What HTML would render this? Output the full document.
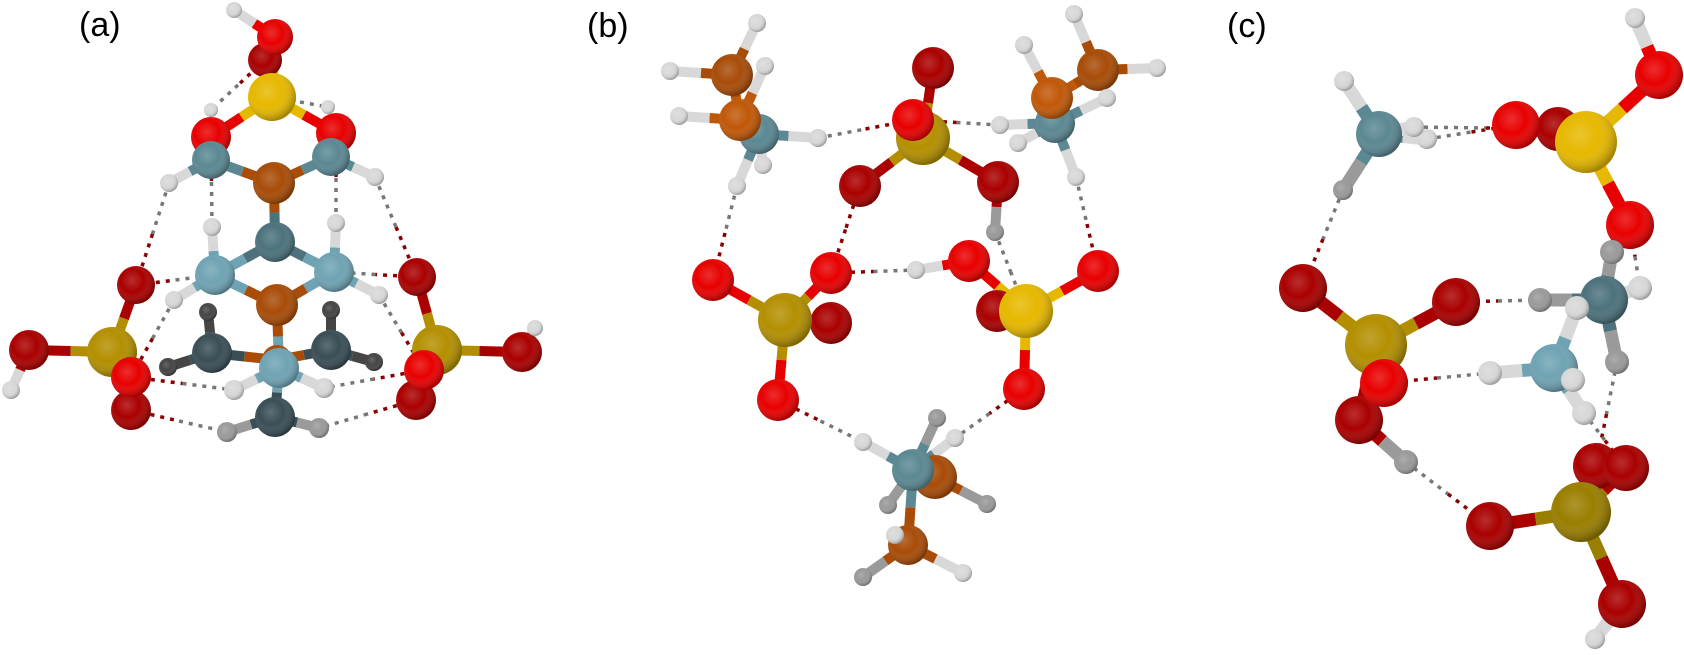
<!DOCTYPE html>
<html><head><meta charset="utf-8">
<style>
html,body{margin:0;padding:0;background:#fff;}
svg{display:block;}
text{font-family:"Liberation Sans",sans-serif;font-size:34px;fill:#000;}
</style></head>
<body>
<svg id="s" width="1684" height="655" viewBox="0 0 1684 655" xmlns="http://www.w3.org/2000/svg">
<defs>
<radialGradient id="sh" cx="40%" cy="38%" r="62%">
<stop offset="0" stop-color="#fff" stop-opacity="0.18"/>
<stop offset="0.5" stop-color="#fff" stop-opacity="0"/>
<stop offset="1" stop-color="#000" stop-opacity="0.28"/>
</radialGradient>
</defs>
<text x="79" y="36">(a)</text>
<text x="587" y="37">(b)</text>
<text x="1227" y="37">(c)</text>
<g id="dash"></g><g id="bond"></g><g id="atom"></g>
</svg>
<script>
var C={O:'#e80000',Od:'#aa0000',S:'#e6b800',So:'#b38f00',Sd:'#9a7e00',N:'#6fa3b3',Nd:'#5b8893',B:'#a84c08',Bl:'#c05808',T:'#4c727c',K:'#3a4e56',H:'#d8d8d8',Hg:'#9a9a9a',Hk:'#454545'};
var P={
a:[['h1',234,10,8,'H'],['o2',265,60,17,'Od'],['o1',275,37,18,'O'],['s',272,97,24,'S'],['h2',211,110,7,'H'],['h3',328,107,7,'H'],
['o3',211,137,20,'O'],['o4',336,133,20,'O'],['n1',211,160,19,'Nd'],['n2',331,157,19,'Nd'],['b1',274,183,21,'B'],['h4',169,183,9,'H'],['h5',375,177,9,'H'],
['c1',275,242,20,'T'],['h6',212,227,9,'H'],['h7',336,223,9,'H'],['n3',215,275,20,'N'],['n4',334,272,20,'N'],['b2',277,305,21,'B'],['h8',174,300,9,'H'],['h9',379,295,9,'H'],
['ol1',136,285,19,'Od'],['or1',417,277,19,'Od'],['sl',112,352,25,'So'],['sr',437,350,25,'So'],['ol2',29,350,20,'Od'],['or2',522,352,20,'Od'],['hl',11,390,9,'H'],['hr',535,328,8,'H'],
['ol4',131,410,20,'Od'],['or4',416,400,20,'Od'],['ol3',131,377,20,'O'],['or3',424,370,20,'O'],
['k1',212,353,20,'K'],['k2',331,350,20,'K'],['hk1',208,312,9,'Hk'],['hk2',331,310,9,'Hk'],['hk3',168,367,9,'Hk'],['hk4',374,362,9,'Hk'],
['bb',277,360,15,'B'],['c3',275,417,20,'K'],['h12',227,432,10,'Hg'],['h13',319,428,10,'Hg'],['n5',279,368,20,'N'],['h10',234,390,10,'H'],['h11',324,388,10,'H']],
b:[['h1',757,23,9,'H'],['h2',670,71,9,'H'],['h3',765,66,9,'H'],['b1',732,75,21,'B'],['n1',759,134,20,'Nd'],['b2',740,120,21,'Bl'],['h4',679,116,9,'H'],['h5',818,138,9,'H'],['h6',763,165,9,'H'],['h7',737,186,9,'H'],
['o0',933,68,21,'Od'],['s1',923,138,27,'So'],['o1',913,120,21,'O'],['o2',860,186,21,'Od'],['o3',998,182,21,'Od'],['hg',995,232,9,'Hg'],
['th1',1074,14,9,'H'],['tb1',1098,70,21,'B'],['tn',1055,123,20,'Nd'],['tb2',1052,98,21,'Bl'],['th2',1024,45,9,'H'],['th3',1107,98,9,'H'],['th4',1000,125,9,'H'],['th5',1018,143,9,'H'],['th6',1076,177,9,'H'],['th7',1157,68,9,'H'],
['lo1',713,280,21,'O'],['lo3',831,323,21,'Od'],['ls',785,320,27,'So'],['lo2',831,273,21,'O'],['lo4',778,400,21,'O'],['hm',916,270,9,'H'],
['ro2',997,311,21,'Od'],['ro1',969,261,21,'O'],['rs',1026,311,27,'S'],['ro3',1098,271,21,'O'],['ro4',1024,389,21,'O'],
['bh1',937,418,9,'Hg'],['bb1',935,477,22,'B'],['bh5',888,505,9,'Hg'],['bn',913,470,21,'Nd'],['bh2',955,438,9,'H'],['bh3',863,442,9,'H'],['bh4',987,504,9,'Hg'],
['bb2',908,545,20,'B'],['bh6',895,535,9,'H'],['bh7',863,577,9,'Hg'],['bh8',963,573,9,'H']],
c:[['h1',1344,81,10,'H'],['h2',1343,190,10,'Hg'],['n1',1379,134,23,'Nd'],['h3',1427,139,10,'H'],['h4',1414,127,10,'H'],
['od',1558,129,22,'Od'],['o1',1516,125,24,'O'],['s1',1586,142,31,'S'],['o2',1659,75,24,'O'],['hh',1635,18,10,'H'],['o3',1630,225,24,'O'],
['h5',1612,252,12,'Hg'],['c1',1604,300,24,'T'],['h6',1640,288,12,'H'],['h7',1540,300,12,'Hg'],['h9',1617,362,12,'Hg'],['h8',1577,308,12,'H'],
['n2',1554,368,24,'N'],['h10',1490,373,12,'H'],['h11',1573,380,12,'H'],['h12',1584,413,12,'H'],
['lo1',1303,288,24,'Od'],['ls',1376,345,31,'So'],['lo2',1456,302,24,'Od'],['lo4',1359,420,24,'Od'],['lo3',1384,383,24,'O'],['lh',1406,462,12,'Hg'],
['bo1',1596,466,23,'Od'],['bs',1581,512,30,'Sd'],['bo2',1626,468,23,'Od'],['bo3',1490,526,24,'Od'],['bo4',1622,604,24,'Od'],['bh',1595,639,10,'H']]
};
var B={
a:'h1-o1 o1-s o2-s s-o3 s-o4 o3-n1 o4-n2 n1-b1 n2-b1 n1-h4 n2-h5 b1-c1 c1-n3 c1-n4 n3-h6 n4-h7 n3-b2 n4-b2 n3-h8 n4-h9 b2-n5 n5-c3 n5-h10 n5-h11 k1-hk1 k2-hk2 k1-hk3 k2-hk4 k1-bb k2-bb c3-h12 c3-h13 ol1-sl sl-ol2 ol2-hl sl-ol3 sl-ol4 or1-sr sr-or2 or2-hr sr-or3 sr-or4',
b:'h1-b1 h2-b1 h3-b2 b1-b2 b2-h4 b2-n1 n1-h5 n1-h6 n1-h7 o0-s1 s1-o1 s1-o2 s1-o3 o3-hg th1-tb1 tb1-tb2 tb2-th2 tb2-tn tn-th3 tn-th4 tn-th5 tn-th6 tb1-th7 lo1-ls ls-lo2 ls-lo3 ls-lo4 ro1-rs rs-ro2 rs-ro3 rs-ro4 ro1-hm bn-bh1 bn-bh2 bn-bh3 bn-bb1 bb1-bh4 bn-bb2 bn-bh5 bb2-bh6 bb2-bh7 bb2-bh8',
c:'n1-h1 n1-h2 n1-h3 n1-h4 o1-s1 od-s1 s1-o2 o2-hh s1-o3 c1-h5 c1-h6 c1-h7 c1-h9 n2-h8 n2-h10 n2-h11 n2-h12 lo1-ls ls-lo2 ls-lo3 ls-lo4 lo4-lh bo1-bs bo2-bs bs-bo3 bs-bo4 bo4-bh'
};
var D={
a:'o2-h2 s-h3 h4-ol1 h5-or1 o3-h6 o4-h7 ol1-n3 or1-n4 h8-ol3 h9-or3 ol3-h10 or3-h11 ol4-h12 or4-h13',
b:'h5-o1 o1-th4 h7-lo1 o2-lo2 lo2-hm hg-rs th6-ro3 lo4-bh3 ro4-bh2',
c:'h3-o1 h4-od h2-lo1 lo2-h7 lo3-h10 lh-bo3 h9-bo1 h12-bo2 o3-h5 o3-h6'
};
var NS='http://www.w3.org/2000/svg';
function el(n,a,p){var e=document.createElementNS(NS,n);for(var k in a)e.setAttribute(k,a[k]);document.getElementById(p).appendChild(e);return e;}
for(var p in P){
 var m={};P[p].forEach(function(a){m[a[0]]=a;});
 D[p].split(' ').forEach(function(s){var q=s.split('-'),A=m[q[0]],Bb=m[q[1]];if(!A||!Bb)return;
  var mx=(A[1]+Bb[1])/2,my=(A[2]+Bb[2])/2;
  el('line',{x1:A[1],y1:A[2],x2:mx,y2:my,stroke:A[4][0]=='O'?'#8a0000':'#777','stroke-width':3.5,'stroke-dasharray':'4 6'},'dash');
  el('line',{x1:mx,y1:my,x2:Bb[1],y2:Bb[2],stroke:Bb[4][0]=='O'?'#8a0000':'#777','stroke-width':3.5,'stroke-dasharray':'4 6'},'dash');});
 B[p].split(' ').forEach(function(s){var q=s.split('-'),A=m[q[0]],Bb=m[q[1]];if(!A||!Bb)return;
  var mx=(A[1]+Bb[1])/2,my=(A[2]+Bb[2])/2,w=p=='c'?13:10;
  el('line',{x1:A[1],y1:A[2],x2:mx,y2:my,stroke:C[A[4]],'stroke-width':w},'bond');
  el('line',{x1:mx,y1:my,x2:Bb[1],y2:Bb[2],stroke:C[Bb[4]],'stroke-width':w},'bond');});
 P[p].forEach(function(a){
  el('circle',{cx:a[1],cy:a[2],r:a[3],fill:C[a[4]]},'atom');
  el('circle',{cx:a[1],cy:a[2],r:a[3],fill:'url(#sh)'},'atom');});
}
</script>
</body></html>
